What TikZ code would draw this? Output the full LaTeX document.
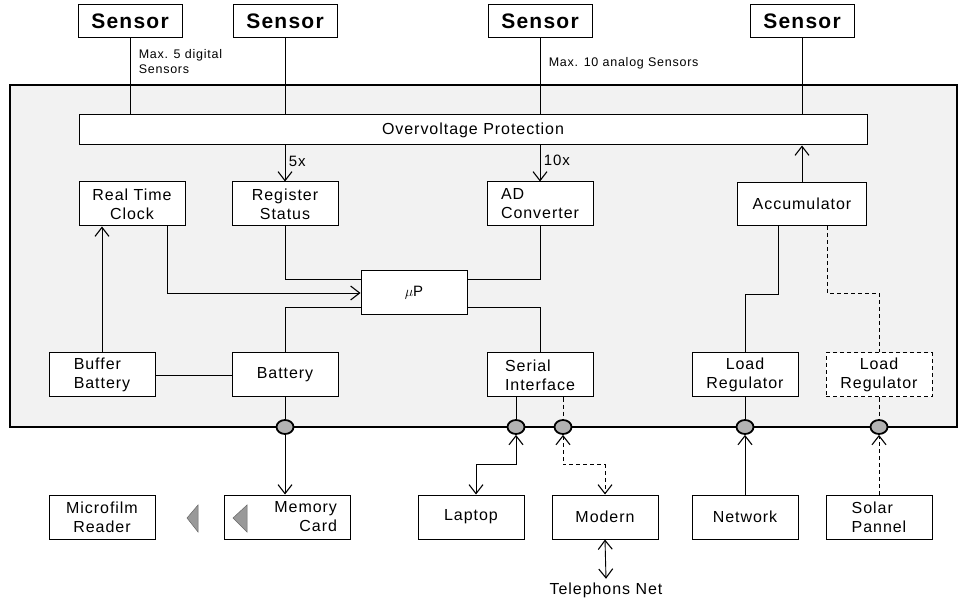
\documentclass[tikz,border=0pt]{standalone}
\usepackage{fontspec}
\setmainfont{Liberation Sans}[LetterSpace=6]
\usetikzlibrary{arrows.meta, positioning, shapes.geometric, calc}

\begin{document}
\begin{tikzpicture}[x=1pt, y=-1pt, line width=0.9pt,
  font=\fontsize{16}{19}\selectfont,
  blk/.style={draw, line width=1pt, fill=white, minimum width=106pt,
              minimum height=44pt, align=center, inner sep=3pt},
  sensorbox/.style={blk, minimum width=104pt, minimum height=33pt,
              font=\fontsize{21}{24}\selectfont\bfseries},
  port/.style={ellipse, draw, line width=1.8pt, fill=black!30,
              minimum width=17pt, minimum height=14pt, inner sep=0pt},
  arr/.style={-{Straight Barb[length=9pt, width=14pt, line width=1.1pt]}},
  both/.style={{Straight Barb[length=9pt, width=14pt, line width=1.1pt]}-{Straight Barb[length=9pt, width=14pt, line width=1.1pt]}},
  dsh/.style={dash pattern=on 4pt off 3pt},
  note/.style={font=\fontsize{12.5}{15}\selectfont, align=left, anchor=west},
  tag/.style={font=\fontsize{15}{17}\selectfont},
]
  \useasboundingbox (0,0) rectangle (961,601);
  % housing
  \draw[line width=1.4pt, fill=black!5] (10,85) rectangle (957,427);

  % sensors
  \node[sensorbox] (s1) at (130,21) {Sensor};
  \node[sensorbox] (s2) at (285,21) {Sensor};
  \node[sensorbox] (s3) at (540,21) {Sensor};
  \node[sensorbox] (s4) at (802,21) {Sensor};
  \node[note] (n1) at (135,62) {Max. 5 digital\\Sensors};
  \node[note] (n2) at (545,63) {Max. 10 analog Sensors};

  \node[blk, minimum width=788pt, minimum height=30pt] (ovp) at (473,130) {Overvoltage Protection};

  % upper row
  \node[blk] (rtc) at (132,204) {Real Time\\Clock};
  \node[blk] (reg) at (285,204) {Register\\Status};
  \node[blk, align=left] (adc) at (540,204) {AD\\Converter};
  \node[blk, minimum width=129pt, minimum height=43pt] (acc) at (802,204) {Accumulator};
  \node[blk, font=\fontsize{15}{17}\selectfont] (up) at (414,293) {$\mu$P};

  % lower row
  \node[blk, align=left] (bbat) at (102,375) {Buffer\\Battery};
  \node[blk] (bat) at (285,375) {Battery};
  \node[blk, align=left] (ser) at (540,375) {Serial\\Interface};
  \node[blk] (lr1) at (745,375) {Load\\Regulator};
  \node[blk, dsh] (lr2) at (879,375) {Load\\Regulator};

  % ports
  \node[port] (p1) at (285,427) {};
  \node[port] (p2) at (516,427) {};
  \node[port] (p3) at (563,427) {};
  \node[port] (p4) at (745,427) {};
  \node[port] (p5) at (879,427) {};

  % outside devices
  \node[blk, align=center] (mfr) at (102,517) {Microfilm\\Reader};
  \node[blk, minimum width=126pt, text width=100pt, align=right] (mem) at (287,517) {Memory\\Card};
  \node[blk] (lap) at (471,517) {Laptop};
  \node[blk] (mod) at (605,517) {Modern};
  \node[blk] (net) at (745,517) {Network};
  \node[blk, align=left] (sol) at (879,517) {Solar\\Pannel};
  \node[tag, font=\fontsize{16}{18}\selectfont] (tel) at (606,590) {Telephons Net};

  \filldraw[fill=black!40, draw=black!60, line width=0.5pt] (198,505) -- (187,518) -- (198,532) -- cycle;
  \filldraw[fill=black!40, draw=black!60, line width=0.5pt] (247,505) -- (233,518) -- (247,532) -- cycle;

  % sensor inputs
  \draw (s1.south) -- (s1.south |- ovp.north);
  \draw (s2.south) -- (s2.south |- ovp.north);
  \draw (s3.south) -- (s3.south |- ovp.north);
  \draw (s4.south) -- (s4.south |- ovp.north);
  \draw[arr] (ovp.south -| reg) -- (reg.north) node[tag, right, pos=0.45] {5x};
  \draw[arr] (ovp.south -| adc) -- (adc.north) node[tag, right, pos=0.4] {10x};
  \draw[arr] (acc.north) -- (acc.north |- ovp.south);

  % to the processor
  \draw[arr] ([xshift=35pt]rtc.south) |- (up.west);
  \draw (reg.south) |- ([yshift=14pt]up.west);
  \draw (bat.north) |- ([yshift=-14pt]up.west);
  \draw (adc.south) |- ([yshift=14pt]up.east);
  \draw (ser.north) |- ([yshift=-14pt]up.east);
  \draw[arr] (bbat.north) -- (bbat.north |- rtc.south);
  \draw (bbat.east) -- (bat.west);

  % accumulator
  \draw ([xshift=-24pt]acc.south) -- ++(0,68) -| (lr1.north);
  \draw[dsh] ([xshift=25pt]acc.south) -- ++(0,67) -| (lr2.north);

  % ports
  \draw (bat.south) -- (p1);
  \draw ([xshift=-24pt]ser.south) -- (p2);
  \draw[dsh] ([xshift=23pt]ser.south) -- (p3);
  \draw (lr1.south) -- (p4);
  \draw[dsh] (lr2.south) -- (p5);

  \draw[arr] (p1) -- (p1 |- mem.north);
  \draw[both] (p2.south) -- ++(0,30) -| ([xshift=5pt]lap.north);
  \draw[both, dsh] (p3.south) -- ++(0,30) -| (mod.north);
  \draw[both] (mod.south) -- (tel.north);
  \draw[arr] (net.north) -- (p4.south);
  \draw[arr, dsh] (sol.north) -- (p5.south);
\end{tikzpicture}
\end{document}
